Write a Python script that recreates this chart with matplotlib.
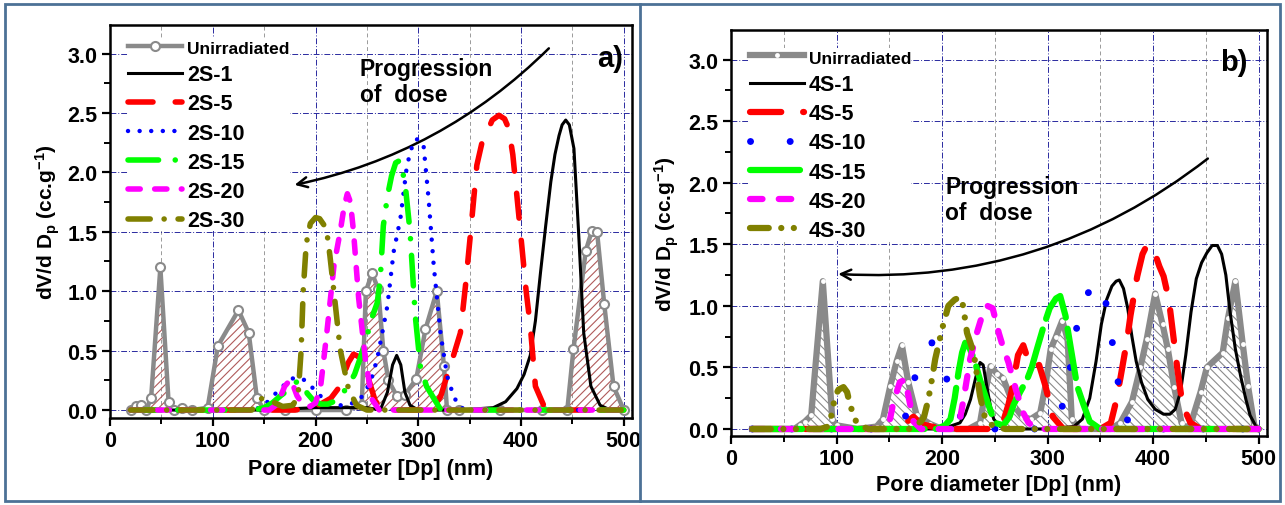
import matplotlib
matplotlib.use('Agg')
import matplotlib.pyplot as plt
from matplotlib.ticker import MultipleLocator, FormatStrFormatter
from matplotlib.patches import Rectangle
from matplotlib.lines import Line2D

plt.rcParams['font.family'] = ['Liberation Sans', 'DejaVu Sans']
plt.rcParams['font.weight'] = 'bold'
plt.rcParams['mathtext.fontset'] = 'custom'
plt.rcParams['mathtext.bf'] = 'Liberation Sans:bold'
plt.rcParams['mathtext.rm'] = 'Liberation Sans:bold'
plt.rcParams['mathtext.default'] = 'bf'
plt.rcParams['hatch.linewidth'] = 0.8

# ---------------- panel a) data ----------------
un_a_x = [20, 25, 30, 35, 40, 49, 57, 62, 70, 80, 95, 105, 125, 135, 143, 150, 170, 200, 230,
          245, 249, 255, 261, 266, 271, 279, 287, 298, 307, 318, 325, 328, 340, 380, 420, 445,
          451, 463, 469, 474, 481, 490, 500]
un_a_y = [0.0, 0.03, 0.04, 0.0, 0.1, 1.2, 0.07, 0.0, 0.02, 0.0, 0.02, 0.54, 0.84, 0.65, 0.1, 0.0,
          0.0, 0.0, 0.0, 0.04, 1.0, 1.15, 1.02, 0.5, 0.25, 0.12, 0.13, 0.26, 0.68, 1.0, 0.37, 0.0,
          0.0, 0.0, 0.0, 0.0, 0.51, 1.34, 1.51, 1.5, 0.89, 0.2, 0.0]

s2_1_x = [20, 150, 200, 250, 263, 270, 275, 279, 283, 287, 292, 300, 340, 373, 385, 396, 403, 409,
          414, 419, 424, 429, 433, 437, 440, 443.5, 447, 451.5, 456, 461, 468, 477, 487, 500]
s2_1_y = [0.0, 0.0, 0.02, 0.02, 0.0, 0.15, 0.38, 0.46, 0.38, 0.15, 0.04, 0.0, 0.0, 0.02, 0.07, 0.18,
          0.3, 0.46, 0.75, 1.16, 1.55, 1.92, 2.15, 2.31, 2.4, 2.44, 2.4, 2.2, 1.5, 0.65, 0.2, 0.04,
          0.0, 0.0]

s2_5_x = [20, 180, 195, 205, 215, 222, 227, 232, 237, 242, 247, 252, 258, 265, 300, 315, 322, 328,
          334, 341, 346, 351, 357, 362, 367, 372, 378.5, 384, 388, 392, 396, 401, 405, 409, 414,
          422, 432, 500]
s2_5_y = [0.0, 0.0, 0.02, 0.05, 0.1, 0.18, 0.29, 0.4, 0.47, 0.45, 0.37, 0.25, 0.08, 0.0, 0.0, 0.02,
          0.12, 0.29, 0.45, 0.65, 1.05, 1.5, 2.06, 2.25, 2.34, 2.44, 2.48, 2.45, 2.37, 2.15, 1.8,
          1.36, 1.0, 0.71, 0.2, 0.04, 0.0, 0.0]

s2_10_x = [20, 140, 150, 159, 168, 178.6, 188, 198, 208, 217.6, 228, 237, 244, 250, 255, 260, 265,
           270, 276, 282.6, 289, 295.6, 300, 305, 310, 315, 321.6, 328, 334.6, 341, 350, 500]
s2_10_y = [0.0, 0.0, 0.04, 0.12, 0.2, 0.27, 0.26, 0.18, 0.09, 0.04, 0.04, 0.06, 0.1, 0.18, 0.28,
           0.43, 0.65, 0.88, 1.33, 1.61, 2.06, 2.27, 2.28, 2.24, 1.78, 1.22, 0.65, 0.29, 0.11,
           0.02, 0.0, 0.0]

s2_15_x = [20, 140, 150, 158, 166, 175, 182, 187, 192, 198, 205, 212, 220, 230, 238, 244, 250, 255,
           260, 263, 266, 270, 274, 278, 282, 287, 292, 297, 302, 308, 315, 322, 500]
s2_15_y = [0.0, 0.0, 0.02, 0.06, 0.12, 0.18, 0.24, 0.22, 0.14, 0.08, 0.05, 0.05, 0.08, 0.18, 0.3,
           0.45, 0.62, 0.78, 0.9, 1.1, 1.55, 1.8, 1.97, 2.08, 2.1, 1.92, 1.5, 0.8, 0.37, 0.2, 0.1,
           0.0, 0.0]

s2_20_x = [20, 155, 163, 170, 176, 182, 188, 195, 200, 205, 211, 218, 224, 228, 231, 234, 237, 242,
           248.5, 255, 262, 500]
s2_20_y = [0.0, 0.0, 0.05, 0.2, 0.26, 0.12, 0.04, 0.03, 0.06, 0.2, 0.65, 1.22, 1.5, 1.72, 1.82,
           1.75, 1.5, 0.94, 0.43, 0.09, 0.0, 0.0]

s2_30_x = [20, 138, 148, 158, 168, 178, 183, 186, 188, 191, 195, 200, 204, 208, 211, 214, 217.6,
           224, 232, 240, 250, 500]
s2_30_y = [0.0, 0.0, 0.1, 0.07, 0.03, 0.04, 0.12, 0.5, 1.0, 1.4, 1.57, 1.62, 1.61, 1.56, 1.5, 1.3,
           1.02, 0.51, 0.18, 0.04, 0.0, 0.0]

# ---------------- panel b) data ----------------
un_b_x = [20, 60, 65, 70, 76, 87, 96, 100, 120, 138, 144, 151, 157, 162, 168, 176, 189, 200, 225,
          236, 241, 246, 252, 258, 268, 276, 284, 293, 298, 303, 308, 314, 319, 323, 330, 360, 369,
          380, 388, 394, 402, 409, 414, 420, 427, 431, 436, 445, 451, 466, 471, 478, 485, 490, 496,
          500]
un_b_y = [0.0, 0.0, 0.03, 0.06, 0.11, 1.2, 0.08, 0.03, 0.0, 0.02, 0.08, 0.35, 0.55, 0.68, 0.38,
          0.11, 0.04, 0.0, 0.0, 0.05, 0.3, 0.51, 0.45, 0.41, 0.19, 0.1, 0.08, 0.13, 0.35, 0.65,
          0.75, 0.88, 0.73, 0.08, 0.0, 0.0, 0.05, 0.22, 0.5, 0.73, 1.1, 0.85, 0.65, 0.34, 0.05, 0.0,
          0.05, 0.3, 0.5, 0.62, 0.9, 1.2, 0.69, 0.35, 0.03, 0.0]

s4_1_x = [20, 200, 217, 222, 227, 232, 236, 239, 243, 246, 249, 255, 262, 300, 325, 333, 340, 346,
          351, 356, 361, 365, 368, 372, 376, 380, 384, 389, 395, 402, 410, 416, 421, 426, 431, 436,
          441, 446, 451, 456, 461, 465, 469, 473, 478, 483, 488, 492, 497, 500]
s4_1_y = [0.0, 0.0, 0.05, 0.12, 0.24, 0.42, 0.54, 0.52, 0.32, 0.18, 0.08, 0.02, 0.0, 0.0, 0.02,
          0.08, 0.25, 0.55, 0.85, 1.05, 1.16, 1.2, 1.21, 1.14, 0.98, 0.75, 0.55, 0.38, 0.24, 0.16,
          0.12, 0.12, 0.16, 0.3, 0.6, 0.95, 1.22, 1.35, 1.43, 1.49, 1.49, 1.42, 1.25, 0.95, 0.65,
          0.43, 0.24, 0.11, 0.03, 0.0]

s4_5_x = [20, 160, 167, 173, 180, 200, 250, 258, 263, 267, 272, 277, 282, 287, 292, 298, 305, 315,
          350, 360, 364, 369, 375.5, 378.6, 385, 390, 394, 398, 402, 406, 410, 415, 420, 423, 428,
          435.5, 445, 500]
s4_5_y = [0.0, 0.0, 0.06, 0.1, 0.04, 0.0, 0.0, 0.06, 0.2, 0.35, 0.6, 0.68, 0.55, 0.5, 0.52, 0.35,
          0.1, 0.0, 0.0, 0.05, 0.19, 0.41, 0.73, 0.92, 1.24, 1.42, 1.49, 1.48, 1.42, 1.32, 1.24,
          1.05, 0.7, 0.49, 0.19, 0.05, 0.0, 0.0]

s4_10_x = [20, 150, 160, 166.7, 174.6, 182, 190.4, 197, 204.7, 212, 220.4, 230, 240, 290, 300,
           306, 312, 320, 326.4, 331, 338, 345, 350, 354, 358, 364.5, 369, 375, 385, 500]
s4_10_y = [0.0, 0.0, 0.04, 0.12, 0.43, 0.62, 0.7, 0.62, 0.4, 0.2, 0.05, 0.02, 0.0, 0.0, 0.02, 0.05,
           0.11, 0.42, 0.74, 1.05, 1.1, 1.17, 1.2, 1.1, 0.87, 0.55, 0.23, 0.08, 0.0, 0.0]

s4_15_x = [20, 195, 203, 208, 212, 215.6, 219, 222, 226, 231, 236, 243, 250, 258, 264, 268, 274,
           280.5, 285, 290, 296.5, 302, 308, 312, 317, 321.6, 328, 334, 340, 350, 500]
s4_15_y = [0.0, 0.0, 0.03, 0.08, 0.25, 0.46, 0.62, 0.7, 0.66, 0.55, 0.4, 0.22, 0.05, 0.03, 0.1,
           0.2, 0.3, 0.4, 0.5, 0.65, 0.84, 0.98, 1.06, 1.08, 0.92, 0.68, 0.35, 0.2, 0.06, 0.0, 0.0]

s4_20_x = [20, 145, 150, 154, 160, 165, 170, 173, 180, 210, 217, 220.4, 226.7, 233, 238, 243, 248,
           253.8, 258, 263, 270, 277, 282, 290, 500]
s4_20_y = [0.0, 0.0, 0.05, 0.22, 0.38, 0.4, 0.19, 0.06, 0.0, 0.0, 0.08, 0.24, 0.57, 0.78, 0.92,
           1.0, 0.98, 0.78, 0.66, 0.54, 0.32, 0.13, 0.05, 0.0, 0.0]

s4_30_x = [20, 85, 92, 95.5, 98.7, 102, 106.6, 110, 113, 119, 125, 130, 170, 176, 180, 183, 185.6,
           188.8, 193.6, 200, 206, 212, 217, 220, 223.7, 230, 236, 241, 249, 260, 500]
s4_30_y = [0.0, 0.0, 0.02, 0.12, 0.27, 0.32, 0.34, 0.3, 0.19, 0.05, 0.02, 0.0, 0.0, 0.04, 0.06,
           0.1, 0.19, 0.32, 0.57, 0.81, 1.0, 1.05, 1.07, 1.0, 0.78, 0.62, 0.27, 0.08, 0.02, 0.0, 0.0]

labels_a = ['Unirradiated', '2S-1', '2S-5', '2S-10', '2S-15', '2S-20', '2S-30']
labels_b = ['Unirradiated', '4S-1', '4S-5', '4S-10', '4S-15', '4S-20', '4S-30']

GRAY = '#8a8a8a'
RED = '#ff0000'
BLUE = '#0000ff'
GREEN = '#00ff00'
MAGENTA = '#ff00ff'
OLIVE = '#808000'


def style_axes(ax, ylim, labelpad_x, labelpad_y):
    ax.set_xlim(0, 508)
    ax.set_ylim(*ylim)
    ax.xaxis.set_major_locator(MultipleLocator(100))
    ax.xaxis.set_minor_locator(MultipleLocator(50))
    ax.yaxis.set_major_locator(MultipleLocator(0.5))
    ax.yaxis.set_minor_locator(MultipleLocator(0.25))
    ax.yaxis.set_major_formatter(FormatStrFormatter('%.1f'))
    ax.tick_params(which='major', direction='out', length=6, width=1.6, labelsize=15.5, pad=3)
    ax.tick_params(which='minor', direction='out', length=4, width=1.4)
    for sp in ax.spines.values():
        sp.set_linewidth(1.8)
    ax.set_axisbelow(True)
    ax.grid(which='major', color='#2a2aa0', linestyle=(0, (6, 2, 1, 2)), linewidth=0.7)
    ax.grid(which='minor', axis='x', color='#9a9a9a', linestyle=(0, (4, 3)), linewidth=0.7)
    ax.set_xlabel('Pore diameter [Dp] (nm)', fontsize=15.5, fontweight='bold', labelpad=labelpad_x)
    ax.set_ylabel(r'dV/d D$_{p}$ (cc.g$^{-1}$)', fontsize=15, fontweight='bold',
                  labelpad=labelpad_y)


fig = plt.figure(figsize=(12.85, 5.06), dpi=100)

# figure frame
fig.patches.append(Rectangle((0.004, 0.008), 0.992, 0.982, transform=fig.transFigure,
                             fill=False, edgecolor='#4c7196', linewidth=2))
fig.add_artist(Line2D([0.498, 0.498], [0.008, 0.99], transform=fig.transFigure,
                      color='#4c7196', linewidth=2))

# ---------------- panel a ----------------
ax1 = fig.add_axes([110 / 1285, 1 - 419 / 506, 522 / 1285, 393 / 506])
style_axes(ax1, (-0.067, 3.24), 5, 4)
ax1.fill_between(un_a_x, 0, un_a_y, facecolor='none', edgecolor='#b05a5a', hatch='////',
                 linewidth=0, zorder=2)
ax1.plot(un_a_x, un_a_y, color=GRAY, lw=3.2, marker='o', ms=6.5, mfc='white', mec=GRAY, mew=1.5,
         label=labels_a[0], zorder=3)
ax1.plot(s2_1_x, s2_1_y, color='black', lw=2.2, label=labels_a[1], zorder=4)
ax1.plot(s2_5_x, s2_5_y, color=RED, lw=4, dashes=(4.5, 4), dash_capstyle='round',
         label=labels_a[2], zorder=4)
ax1.plot(s2_10_x, s2_10_y, color=BLUE, lw=3.2, dashes=(0.01, 2.6), dash_capstyle='round',
         label=labels_a[3], zorder=4)
ax1.plot(s2_15_x, s2_15_y, color=GREEN, lw=4, dashes=(5.5, 3, 0.01, 3), dash_capstyle='round',
         label=labels_a[4], zorder=4)
ax1.plot(s2_20_x, s2_20_y, color=MAGENTA, lw=4, dashes=(2.2, 2.6), dash_capstyle='round',
         label=labels_a[5], zorder=4)
ax1.plot(s2_30_x, s2_30_y, color=OLIVE, lw=4, dashes=(4, 2.5, 0.01, 2.5), dash_capstyle='round',
         label=labels_a[6], zorder=4)

leg1 = ax1.legend(loc='upper left', bbox_to_anchor=(0.035, 0.967), frameon=True,
                  facecolor='white', edgecolor='none', framealpha=1, fontsize=15.5,
                  handlelength=2.5, handletextpad=0.25, labelspacing=0.38, borderpad=0,
                  borderaxespad=0)
leg1.get_texts()[0].set_fontsize(12.5)

ax1.annotate('', xy=(177, 1.89), xytext=(429, 3.06),
             arrowprops=dict(arrowstyle='->', color='black', lw=1.8, mutation_scale=18,
                             connectionstyle='arc3,rad=-0.15'))
ax1.text(243, 2.97, 'Progression\nof  dose', fontsize=16.5, fontweight='bold', va='top',
         ha='left', linespacing=1.15)
ax1.text(474, 2.96, 'a)', fontsize=21, fontweight='bold', va='center', ha='left')

# ---------------- panel b ----------------
ax2 = fig.add_axes([731 / 1285, 1 - 437 / 506, 536 / 1285, 406 / 506])
style_axes(ax2, (-0.057, 3.24), 3, 5)
ax2.fill_between(un_b_x, 0, un_b_y, facecolor='none', edgecolor='#8a8a8a', hatch='\\\\\\\\',
                 linewidth=0, zorder=2)
ax2.plot(un_b_x, un_b_y, color=GRAY, lw=4.5, marker='o', ms=3.5, mfc='white', mec='white',
         mew=0, label=labels_b[0], zorder=3)
ax2.plot(s4_1_x, s4_1_y, color='black', lw=2.2, label=labels_b[1], zorder=4)
ax2.plot(s4_5_x, s4_5_y, color=RED, lw=4.5, dashes=(5, 3.5), dash_capstyle='round',
         label=labels_b[2], zorder=4)
ax2.plot(s4_10_x, s4_10_y, color=BLUE, lw=5, dashes=(0.01, 5.7), dash_capstyle='round',
         label=labels_b[3], zorder=4)
ax2.plot(s4_15_x, s4_15_y, color=GREEN, lw=4.5, dashes=(8, 1.8), dash_capstyle='round',
         label=labels_b[4], zorder=4)
ax2.plot(s4_20_x, s4_20_y, color=MAGENTA, lw=4.5, dashes=(2, 2.6), dash_capstyle='round',
         label=labels_b[5], zorder=4)
ax2.plot(s4_30_x, s4_30_y, color=OLIVE, lw=4.5, dashes=(3, 2, 0.01, 2, 0.01, 2),
         dash_capstyle='round', label=labels_b[6], zorder=4)

leg2 = ax2.legend(loc='upper left', bbox_to_anchor=(0.035, 0.956), frameon=True,
                  facecolor='white', edgecolor='none', framealpha=1, fontsize=15.5,
                  handlelength=2.5, handletextpad=0.25, labelspacing=0.38, borderpad=0,
                  borderaxespad=0)
leg2.get_texts()[0].set_fontsize(12.5)

ax2.annotate('', xy=(99, 1.26), xytext=(454, 2.21),
             arrowprops=dict(arrowstyle='->', color='black', lw=1.8, mutation_scale=18,
                             connectionstyle='arc3,rad=-0.19'))
ax2.text(203, 2.06, 'Progression\nof  dose', fontsize=16.5, fontweight='bold', va='top',
         ha='left', linespacing=1.15)
ax2.text(464, 2.98, 'b)', fontsize=21, fontweight='bold', va='center', ha='left')

fig.savefig('out.png', dpi=100)
